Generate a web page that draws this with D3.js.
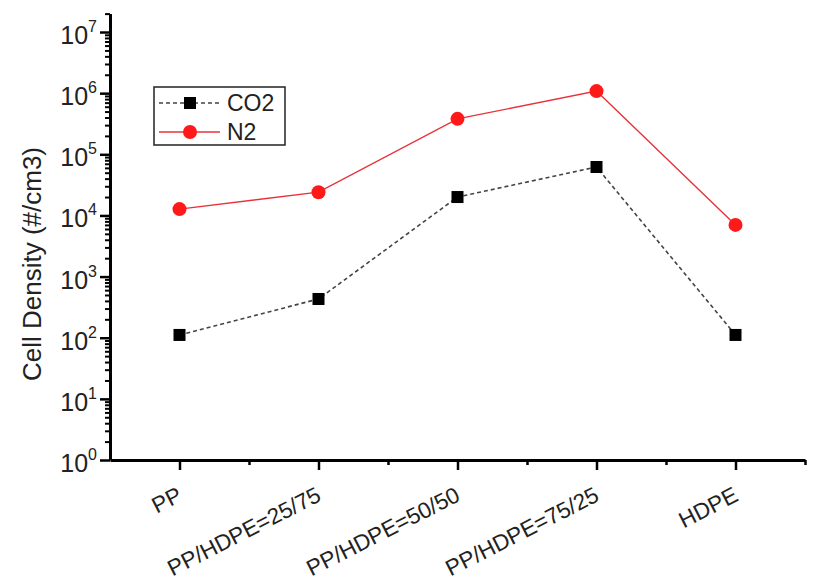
<!DOCTYPE html>
<html>
<head>
<meta charset="utf-8">
<script src="https://cdn.jsdelivr.net/npm/d3@7"></script>
<style>
  body { margin: 0; background: #fff; }
  svg { font-family: "Liberation Sans", Arial, sans-serif; }
  .axis path, .axis line { stroke: #000; }
</style>
</head>
<body>
<svg id="chart" width="814" height="584"></svg>
<script>
// data
var categories = ["PP", "PP/HDPE=25/75", "PP/HDPE=50/50", "PP/HDPE=75/25", "HDPE"];
var co2 = [111, 430, 20000, 62000, 111];
var n2 = [12700, 24000, 380000, 1080000, 7000];
var yExps = [0, 1, 2, 3, 4, 5, 6, 7];

var svg = d3.select("#chart");

var x = d3.scaleLinear()
    .domain([0.5, categories.length + 0.5])
    .range([110, 805]);

var y = d3.scaleLog()
    .domain([1, 2e7])
    .range([460, 460 - Math.log10(2e7) * 61.14]);

// minor log ticks 2..9 per decade
var minorY = [];
for (var e = 0; e < 8; e++) {
    for (var m = 2; m <= 9; m++) {
        var v = m * Math.pow(10, e);
        if (v <= 2e7) minorY.push(v);
    }
}
var minorX = d3.range(1.5, categories.length + 1, 1);

// y axis
svg.append("g")
    .attr("class", "axis")
    .attr("transform", "translate(110,0)")
    .call(d3.axisLeft(y).tickValues(minorY).tickSize(5).tickFormat("").tickSizeOuter(0))
    .call(function(g) {
        g.select(".domain").attr("stroke-width", 3);
        g.selectAll(".tick line").attr("stroke-width", 2);
    });

var yAxis = svg.append("g")
    .attr("class", "axis")
    .attr("transform", "translate(110,0)")
    .call(d3.axisLeft(y).tickValues(yExps.map(function(d) { return Math.pow(10, d); }))
        .tickSize(10).tickFormat("").tickSizeOuter(0));
yAxis.select(".domain").remove();
yAxis.selectAll(".tick line").attr("stroke-width", 2.5);

var yLab = svg.append("g").selectAll("text")
    .data(yExps)
  .enter().append("text")
    .attr("x", 97)
    .attr("y", function(d) { return y(Math.pow(10, d)) + 12; })
    .attr("text-anchor", "end")
    .attr("fill", "#222")
    .style("font-size", "25px");
yLab.append("tspan").text("10");
yLab.append("tspan")
    .attr("dy", -12)
    .style("font-size", "16px")
    .text(function(d) { return d; });

// x axis
svg.append("g")
    .attr("class", "axis")
    .attr("transform", "translate(0,460)")
    .call(d3.axisBottom(x).tickValues(minorX).tickSize(5).tickFormat("").tickSizeOuter(0))
    .call(function(g) {
        g.select(".domain").attr("stroke-width", 3);
        g.selectAll(".tick line").attr("stroke-width", 2.5);
    });

var xAxis = svg.append("g")
    .attr("class", "axis")
    .attr("transform", "translate(0,460)")
    .call(d3.axisBottom(x).tickValues(d3.range(1, categories.length + 1))
        .tickSize(10).tickFormat("").tickSizeOuter(0));
xAxis.select(".domain").remove();
xAxis.selectAll(".tick line").attr("stroke-width", 2.5);

svg.append("g").selectAll("text")
    .data(categories)
  .enter().append("text")
    .attr("transform", function(d, i) {
        return "translate(" + (x(i + 1) + 4) + ",500) rotate(-27)";
    })
    .attr("text-anchor", "end")
    .attr("fill", "#222")
    .style("font-size", "22.5px")
    .text(function(d) { return d; });

// y label
svg.append("text")
    .attr("transform", "translate(41,264) rotate(-90)")
    .attr("text-anchor", "middle")
    .attr("fill", "#222")
    .style("font-size", "26px")
    .text("Cell Density (#/cm3)");

// series
var line = d3.line()
    .x(function(d, i) { return x(i + 1); })
    .y(function(d) { return y(d); });

svg.append("path")
    .datum(co2)
    .attr("d", line)
    .attr("fill", "none")
    .attr("stroke", "#444")
    .attr("stroke-width", 1.6)
    .attr("stroke-dasharray", "4,3");

svg.append("path")
    .datum(n2)
    .attr("d", line)
    .attr("fill", "none")
    .attr("stroke", "#e8323a")
    .attr("stroke-width", 1.4);

svg.append("g").selectAll("rect")
    .data(co2)
  .enter().append("rect")
    .attr("x", function(d, i) { return x(i + 1) - 6; })
    .attr("y", function(d) { return y(d) - 6; })
    .attr("width", 12)
    .attr("height", 12)
    .attr("fill", "#000");

svg.append("g").selectAll("circle")
    .data(n2)
  .enter().append("circle")
    .attr("cx", function(d, i) { return x(i + 1); })
    .attr("cy", function(d) { return y(d); })
    .attr("r", 7)
    .attr("fill", "#ff1a1a");

// legend
var legend = svg.append("g");
legend.append("rect")
    .attr("x", 154).attr("y", 87)
    .attr("width", 131).attr("height", 58)
    .attr("fill", "#fff")
    .attr("stroke", "#222")
    .attr("stroke-width", 1.5);

legend.append("line")
    .attr("x1", 159).attr("x2", 220).attr("y1", 103).attr("y2", 103)
    .attr("stroke", "#444").attr("stroke-width", 1.6).attr("stroke-dasharray", "4,3");
legend.append("rect")
    .attr("x", 184).attr("y", 97).attr("width", 12).attr("height", 12)
    .attr("fill", "#000");
legend.append("text")
    .attr("x", 227).attr("y", 111)
    .attr("fill", "#222")
    .style("font-size", "23px")
    .text("CO2");

legend.append("line")
    .attr("x1", 159).attr("x2", 220).attr("y1", 132).attr("y2", 132)
    .attr("stroke", "#e8323a").attr("stroke-width", 1.4);
legend.append("circle")
    .attr("cx", 190).attr("cy", 132).attr("r", 7)
    .attr("fill", "#ff1a1a");
legend.append("text")
    .attr("x", 227).attr("y", 140)
    .attr("fill", "#222")
    .style("font-size", "23px")
    .text("N2");
</script>
</body>
</html>
